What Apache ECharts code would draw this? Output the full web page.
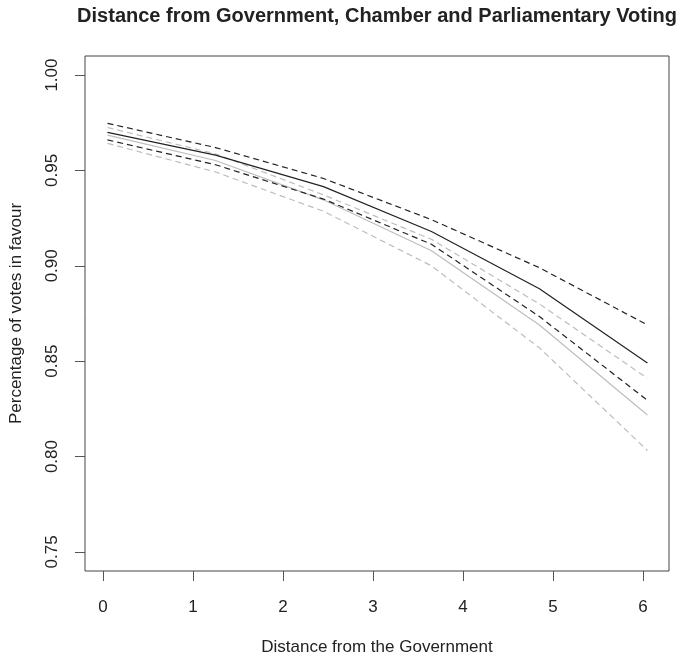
<!DOCTYPE html>
<html>
<head>
<meta charset="utf-8">
<script src="https://cdn.jsdelivr.net/npm/echarts@6/dist/echarts.min.js"></script>
<style>
html,body{margin:0;padding:0;background:#fff;}
#chart{width:682px;height:661px;}
</style>
</head>
<body>
<div id="chart"></div>
<script>
// Distance from the government (x positions of the estimates)
var distance = [0.05, 1.25, 2.45, 3.65, 4.85, 6.05];
// Black lines
var blackMean  = [0.970, 0.958, 0.9415, 0.918, 0.888, 0.849];
var blackUpper = [0.9747, 0.962, 0.9458, 0.9242, 0.899, 0.869];
var blackLower = [0.966, 0.953, 0.935, 0.9113, 0.8734, 0.8295];
// Grey lines
var greyMean  = [0.9685, 0.9552, 0.9346, 0.9079, 0.869, 0.8218];
var greyUpper = [0.9725, 0.9587, 0.9372, 0.9139, 0.880, 0.841];
var greyLower = [0.9642, 0.9492, 0.9286, 0.900, 0.857, 0.8032];

var xTicks = [0, 1, 2, 3, 4, 5, 6];
var yTicks = [0.75, 0.80, 0.85, 0.90, 0.95, 1.00];

function pairs(ys) { return distance.map(function (x, i) { return [x, ys[i]]; }); }

var FONT = '"Liberation Sans", Arial, sans-serif';
var BLACK = '#222222';
var GREY = '#bdbdbd';

function line(name, ys, color, dashed, width) {
  return {
    name: name, type: 'line', data: pairs(ys), symbol: 'none', silent: true,
    lineStyle: { color: color, width: width, type: dashed ? [6, 4] : 'solid' },
    animation: false
  };
}

var chart = echarts.init(document.getElementById('chart'), null, { renderer: 'canvas' });
chart.setOption({
  animation: false,
  backgroundColor: '#ffffff',
  title: {
    text: 'Distance from Government, Chamber and Parliamentary Voting',
    left: 372, top: 1, textAlign: 'center',
    textStyle: { fontFamily: FONT, fontSize: 20, fontWeight: 'bold', color: '#222' }
  },
  grid: { left: 85, right: 13, top: 56, bottom: 83, show: true, borderColor: '#444', borderWidth: 1, backgroundColor: 'transparent' },
  xAxis: {
    type: 'value', min: -0.2, max: 6.29,
    name: 'Distance from the Government', nameLocation: 'middle', nameGap: 68,
    nameTextStyle: { fontFamily: FONT, fontSize: 17, color: '#222' },
    axisLine: { show: false, onZero: false },
    axisTick: { show: true, customValues: xTicks, length: 10, lineStyle: { color: '#555', width: 1 } },
    axisLabel: { customValues: xTicks, fontFamily: FONT, fontSize: 17, color: '#222', margin: 28,
      formatter: function (v) { return String(v); } },
    splitLine: { show: false }
  },
  yAxis: {
    type: 'value', min: 0.74, max: 1.01,
    name: 'Percentage of votes in favour', nameLocation: 'middle', nameGap: 60,
    nameTextStyle: { fontFamily: FONT, fontSize: 17, color: '#222' },
    axisLine: { show: false, onZero: false },
    axisTick: { show: true, customValues: yTicks, length: 10, lineStyle: { color: '#555', width: 1 } },
    axisLabel: { customValues: yTicks, rotate: 90, fontFamily: FONT, fontSize: 17, color: '#222', margin: 24,
      formatter: function (v) { return v.toFixed(2); } },
    splitLine: { show: false }
  },
  series: [
    line('greyUpper', greyUpper, GREY, true, 1.2),
    line('greyLower', greyLower, GREY, true, 1.2),
    line('greyMean', greyMean, GREY, false, 1.2),
    line('blackUpper', blackUpper, BLACK, true, 1.2),
    line('blackLower', blackLower, BLACK, true, 1.2),
    line('blackMean', blackMean, BLACK, false, 1.2)
  ]
});
</script>
</body>
</html>
